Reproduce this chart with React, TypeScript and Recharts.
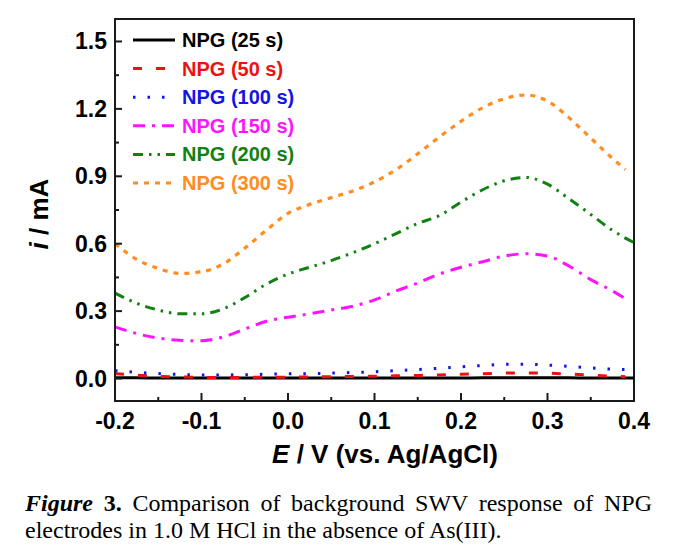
import React from 'react';
import { LineChart, Line, XAxis, YAxis, ReferenceArea, Legend } from 'recharts';

// Potential (V vs. Ag/AgCl)
const potentials = [-0.2, -0.175, -0.15, -0.125, -0.1, -0.075, -0.05, -0.025, 0.0, 0.025, 0.05, 0.075, 0.1, 0.125, 0.15, 0.175, 0.2, 0.225, 0.25, 0.275, 0.3, 0.325, 0.35, 0.375, 0.39, 0.4];

// Current (mA) for each deposition time
const npg25 = [0.003, 0.003, 0.002, 0.002, 0.002, 0.002, 0.002, 0.002, 0.002, 0.002, 0.002, 0.002, 0.002, 0.002, 0.002, 0.002, 0.002, 0.003, 0.003, 0.003, 0.003, 0.003, 0.002, 0.002, 0.002, 0.002];
const npg50 = [0.022, 0.015, 0.01, 0.007, 0.005, 0.005, 0.005, 0.006, 0.006, 0.007, 0.008, 0.009, 0.01, 0.012, 0.014, 0.016, 0.019, 0.021, 0.024, 0.025, 0.024, 0.02, 0.015, 0.01, 0.008, null];
const npg100 = [0.035, 0.028, 0.022, 0.018, 0.016, 0.016, 0.017, 0.019, 0.021, 0.022, 0.024, 0.027, 0.03, 0.035, 0.04, 0.046, 0.052, 0.058, 0.063, 0.064, 0.06, 0.054, 0.047, 0.042, 0.04, null];
const npg150 = [0.23, 0.2, 0.18, 0.17, 0.168, 0.185, 0.22, 0.255, 0.273, 0.288, 0.305, 0.322, 0.35, 0.39, 0.425, 0.465, 0.495, 0.52, 0.545, 0.555, 0.545, 0.5, 0.44, 0.39, 0.355, null];
const npg200 = [0.38, 0.335, 0.305, 0.288, 0.288, 0.31, 0.36, 0.42, 0.465, 0.495, 0.525, 0.56, 0.6, 0.645, 0.69, 0.725, 0.785, 0.84, 0.88, 0.895, 0.865, 0.8, 0.73, 0.66, 0.625, 0.605];
const npg300 = [0.6, 0.53, 0.49, 0.468, 0.475, 0.51, 0.58, 0.66, 0.735, 0.775, 0.805, 0.835, 0.875, 0.93, 1.0, 1.075, 1.145, 1.205, 1.245, 1.262, 1.235, 1.16, 1.07, 0.98, 0.93, null];

const seriesNames = ['NPG (25 s)', 'NPG (50 s)', 'NPG (100 s)', 'NPG (150 s)', 'NPG (200 s)', 'NPG (300 s)'];
const seriesKeys = ['s25', 's50', 's100', 's150', 's200', 's300'];
const seriesValues = [npg25, npg50, npg100, npg150, npg200, npg300];

const xTicks = [-0.2, -0.15, -0.1, -0.05, 0.0, 0.05, 0.1, 0.15, 0.2, 0.25, 0.3, 0.35, 0.4];
const yTicks = [0.0, 0.15, 0.3, 0.45, 0.6, 0.75, 0.9, 1.05, 1.2, 1.35, 1.5];

const seriesStyles = [
  { color: '#000000', dash: undefined as string | undefined, width: 3 },
  { color: '#ee1111', dash: '9 14', width: 3 },
  { color: '#1414e6', dash: '2.5 12', width: 3 },
  { color: '#ff14ff', dash: '12 7 3 7', width: 3 },
  { color: '#118211', dash: '10 6 2.5 6 2.5 6', width: 3 },
  { color: '#ff8c1e', dash: '5 6', width: 3.2 },
];

const data = potentials.map((E, i) => {
  const row: Record<string, number | null> = { E };
  seriesKeys.forEach((k, j) => {
    row[k] = seriesValues[j][i];
  });
  return row;
});

const SANS = 'Liberation Sans, Arial, sans-serif';
const AXIS = '#1a1a1a';

const isMultiple = (v: number, step: number) => Math.abs(v / step - Math.round(v / step)) < 1e-6;

const XTick = (props: any) => {
  const { x, y, payload } = props;
  const v = payload.value as number;
  const major = isMultiple(v, 0.1);
  return (
    <g>
      <line x1={x} x2={x} y1={y} y2={y - (major ? 8 : 4)} stroke={AXIS} strokeWidth={2} />
      {major && (
        <text x={x} y={y + 28} textAnchor="middle" fontFamily={SANS} fontWeight="bold" fontSize={23} fill="#000">
          {v.toFixed(1)}
        </text>
      )}
    </g>
  );
};

const YTick = (props: any) => {
  const { x, y, payload } = props;
  const v = payload.value as number;
  const major = isMultiple(v, 0.3);
  return (
    <g>
      <line x1={x} x2={x + (major ? 7 : 4)} y1={y} y2={y} stroke={AXIS} strokeWidth={2} />
      {major && (
        <text x={x - 8} y={y + 8} textAnchor="end" fontFamily={SANS} fontWeight="bold" fontSize={23} fill="#000">
          {v.toFixed(1)}
        </text>
      )}
    </g>
  );
};

const renderLegend = () => (
  <svg width={675} height={200} style={{ overflow: 'visible', display: 'block' }}>
    {seriesNames.map((name, i) => {
      const cy = 32 + i * 28.6;
      const st = seriesStyles[i];
      return (
        <g key={name}>
          <line x1={125} x2={167} y1={cy} y2={cy} stroke={st.color} strokeWidth={st.width} strokeDasharray={st.dash} />
          <text x={174} y={cy + 7} fontFamily={SANS} fontWeight="bold" fontSize={20} fill={st.color}>
            {name}
          </text>
        </g>
      );
    })}
  </svg>
);

const XLabel = () => (
  <text x={377} y={455} textAnchor="middle" fontFamily={SANS} fontWeight="bold" fontSize={26} fill="#000">
    <tspan fontStyle="italic">E</tspan>
    <tspan> / V (vs. Ag/AgCl)</tspan>
  </text>
);

const YLabel = () => (
  <text transform="translate(40,206) rotate(-90)" textAnchor="middle" fontFamily={SANS} fontWeight="bold" fontSize={26} fill="#000">
    <tspan fontStyle="italic">i</tspan>
    <tspan> / mA</tspan>
  </text>
);

export default function App() {
  return (
    <div style={{ width: 675 }}>
      <LineChart width={675} height={470} data={data} margin={{ top: 11, right: 49, left: 0, bottom: 0 }}>
        <ReferenceArea x1={-0.2} x2={0.4} y1={-0.1} y2={1.6} fill="none" stroke={AXIS} strokeWidth={2} ifOverflow="visible" />
        <XAxis
          dataKey="E"
          type="number"
          domain={[-0.2, 0.4]}
          ticks={xTicks}
          interval={0}
          height={77}
          tickSize={0}
          tickMargin={0}
          tickLine={false}
          axisLine={{ stroke: AXIS, strokeWidth: 2 }}
          tick={(p: any) => <XTick {...p} />}
          label={{ content: () => <XLabel /> }}
        />
        <YAxis
          type="number"
          domain={[-0.1, 1.6]}
          ticks={yTicks}
          interval={0}
          width={107}
          tickSize={0}
          tickMargin={0}
          tickLine={false}
          axisLine={{ stroke: AXIS, strokeWidth: 2 }}
          tick={(p: any) => <YTick {...p} />}
          label={{ content: () => <YLabel /> }}
        />
        <Legend
          layout="horizontal"
          verticalAlign="middle"
          align="center"
          content={renderLegend}
          wrapperStyle={{ position: 'absolute', top: 0, left: 0, width: 675, height: 200, pointerEvents: 'none' }}
        />
        {seriesKeys.map((k, i) => (
          <Line
            key={k}
            dataKey={k}
            name={seriesNames[i]}
            type="monotone"
            stroke={seriesStyles[i].color}
            strokeWidth={seriesStyles[i].width}
            strokeDasharray={seriesStyles[i].dash}
            dot={false}
            activeDot={false}
            connectNulls={false}
            isAnimationActive={false}
          />
        ))}
      </LineChart>
      <div
        style={{
          marginTop: 12,
          marginLeft: 17,
          width: 627,
          fontFamily: 'Liberation Serif, Times New Roman, serif',
          fontSize: 24,
          lineHeight: '27px',
          color: '#000',
        }}
      >
        <div style={{ textAlign: 'justify', textAlignLast: 'justify', whiteSpace: 'nowrap' }}>
          <b><i>Figure</i> 3.</b> Comparison of background SWV response of NPG
        </div>
        <div style={{ whiteSpace: 'nowrap' }}>electrodes in 1.0 M HCl in the absence of As(III).</div>
      </div>
    </div>
  );
}
